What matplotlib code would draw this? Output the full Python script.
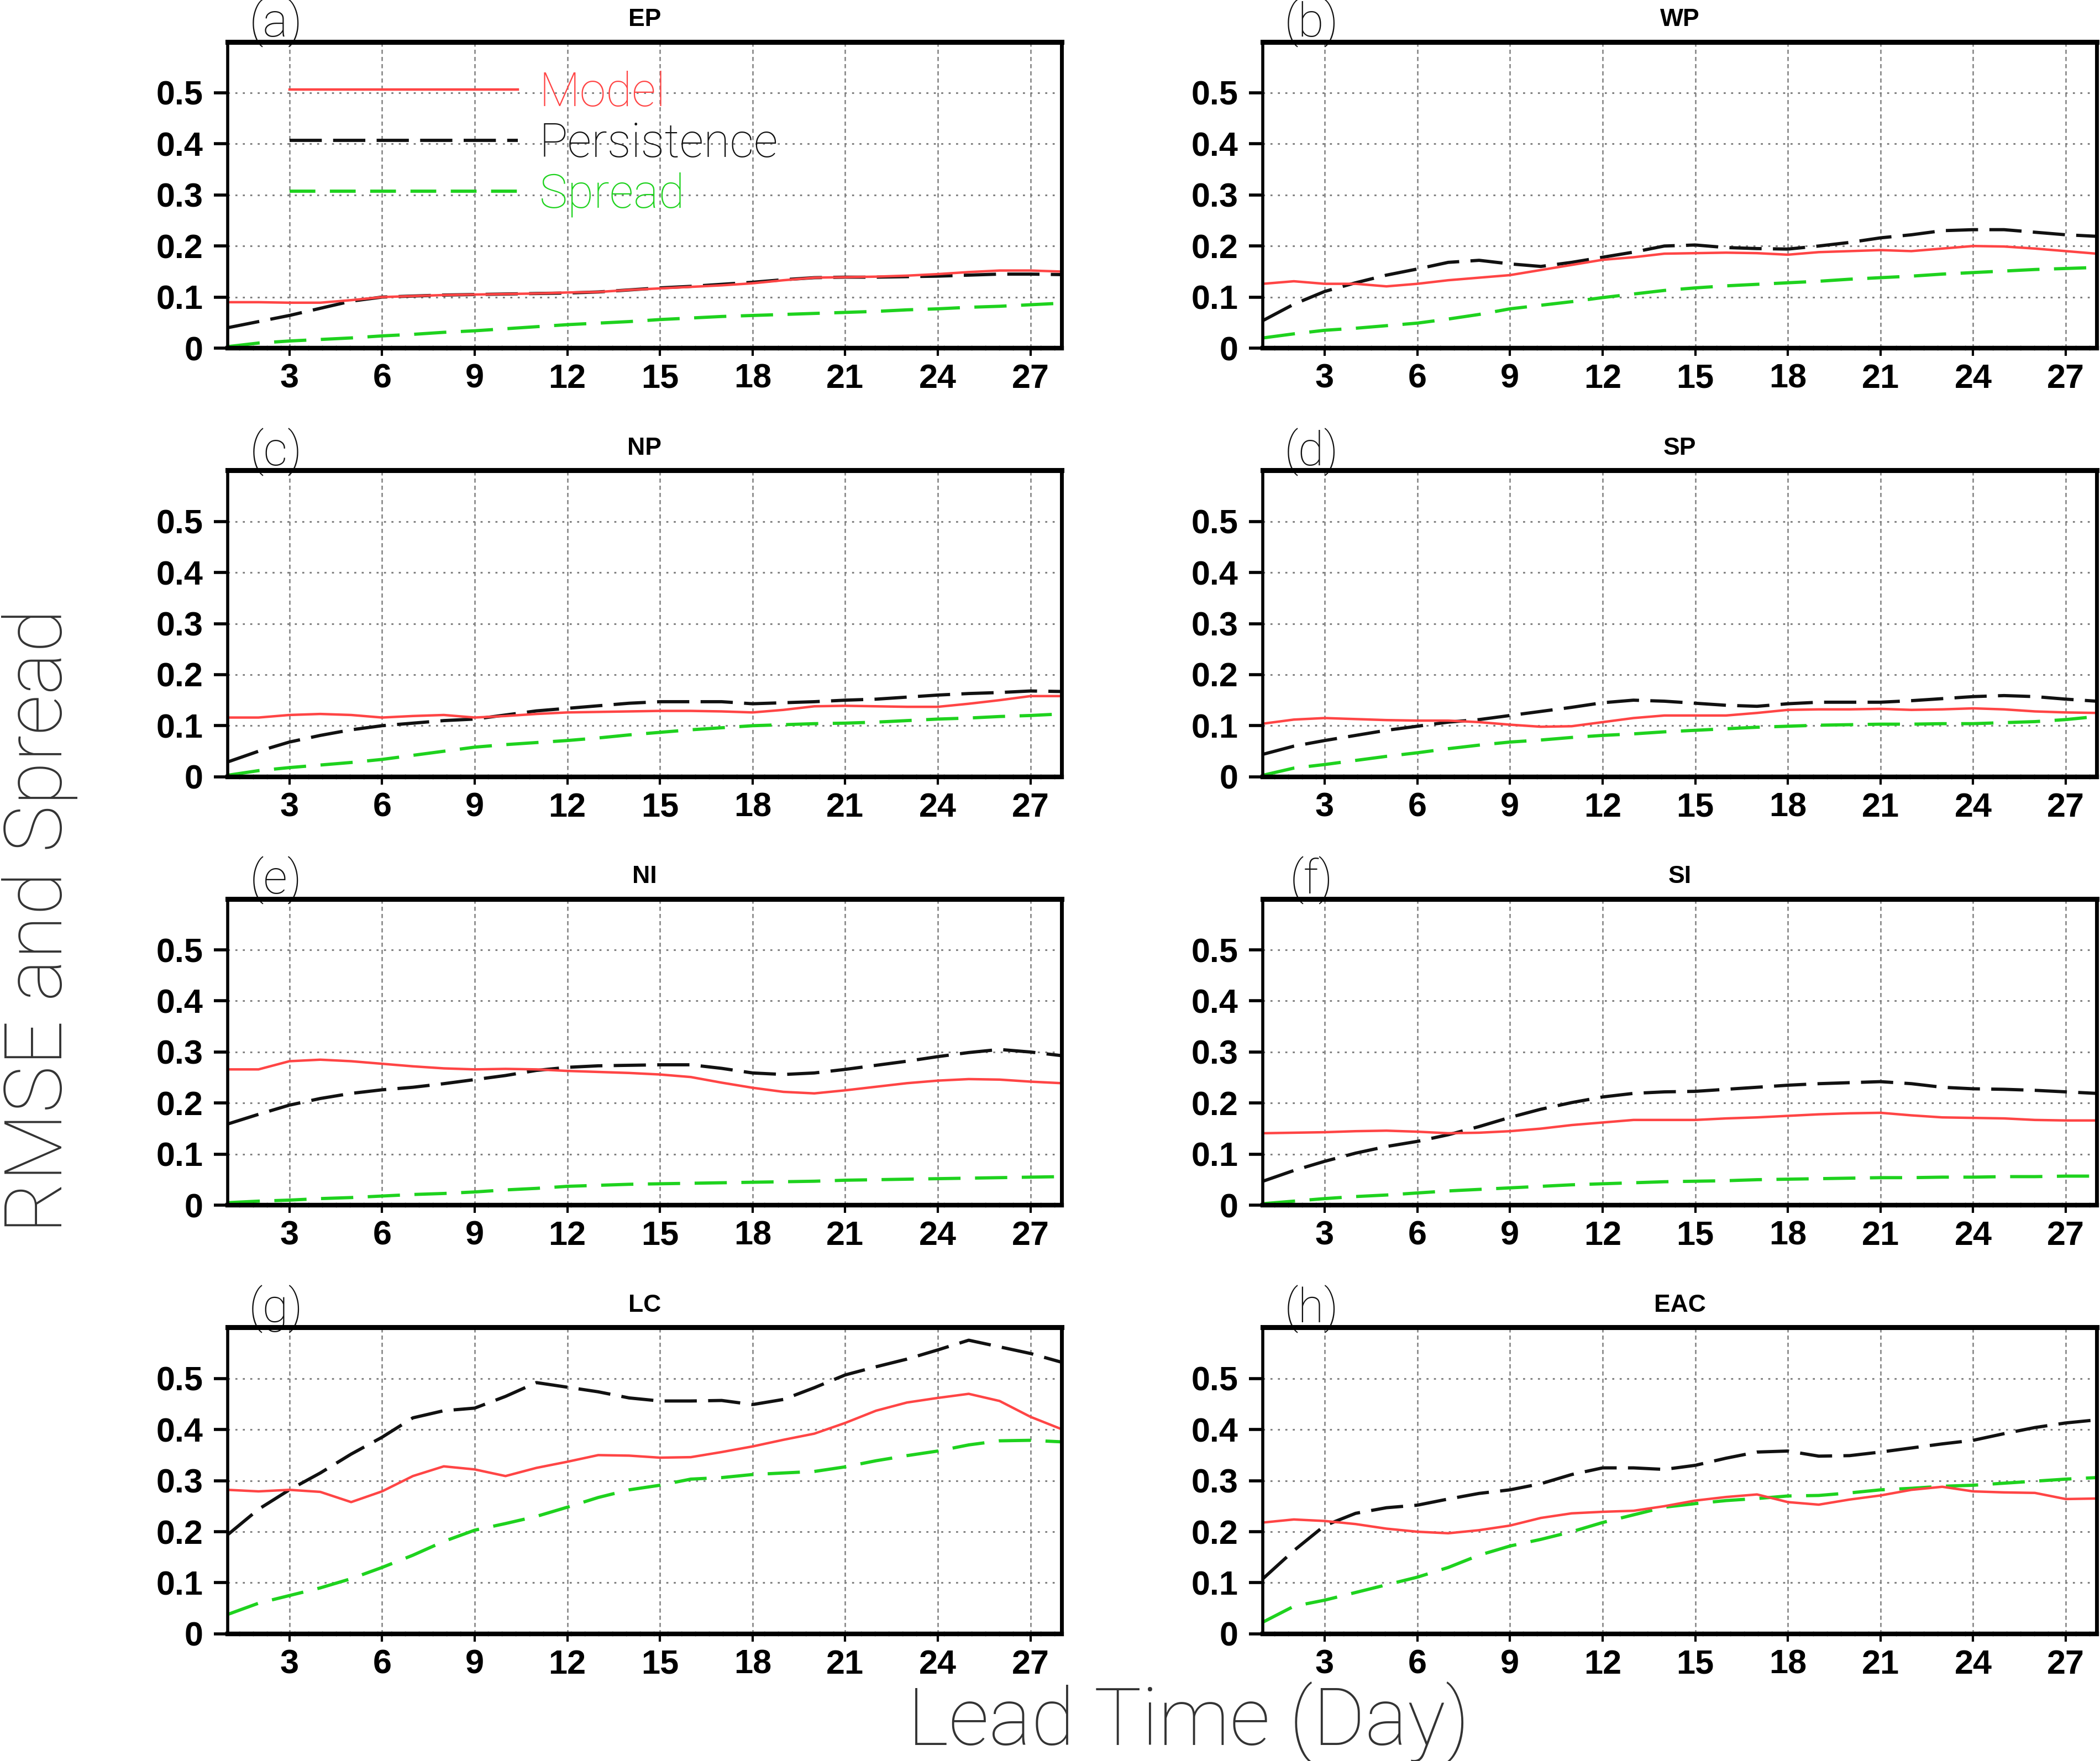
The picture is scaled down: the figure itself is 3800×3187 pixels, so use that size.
import matplotlib
matplotlib.use("Agg")
import matplotlib.pyplot as plt
from matplotlib.lines import Line2D

days = list(range(1, 29))
panel_letters = ["a", "b", "c", "d", "e", "f", "g", "h"]
regions = ["EP", "WP", "NP", "SP", "NI", "SI", "LC", "EAC"]
series_names = ["Model", "Persistence", "Spread"]
y_ticks = [0, 0.1, 0.2, 0.3, 0.4, 0.5]
y_tick_labels = ["0", "0.1", "0.2", "0.3", "0.4", "0.5"]
x_ticks = [3, 6, 9, 12, 15, 18, 21, 24, 27]

# ---- (a) EP ----
ep_model = [0.090, 0.090, 0.089, 0.089, 0.094, 0.100, 0.102, 0.104, 0.105, 0.106, 0.107, 0.109, 0.110, 0.114,
            0.117, 0.120, 0.123, 0.127, 0.133, 0.138, 0.139, 0.140, 0.142, 0.145, 0.149, 0.152, 0.152, 0.150]
ep_pers = [0.040, 0.052, 0.064, 0.078, 0.092, 0.100, 0.102, 0.104, 0.105, 0.106, 0.107, 0.108, 0.110, 0.114,
           0.118, 0.121, 0.125, 0.129, 0.134, 0.138, 0.139, 0.139, 0.140, 0.141, 0.143, 0.145, 0.145, 0.144]
ep_spread = [0.003, 0.010, 0.014, 0.017, 0.020, 0.024, 0.027, 0.031, 0.034, 0.038, 0.042, 0.046, 0.049, 0.052,
             0.056, 0.059, 0.062, 0.064, 0.066, 0.068, 0.070, 0.072, 0.075, 0.077, 0.080, 0.082, 0.085, 0.088]

# ---- (b) WP ----
wp_model = [0.126, 0.131, 0.126, 0.126, 0.121, 0.126, 0.133, 0.138, 0.143, 0.153, 0.163, 0.173, 0.178, 0.185,
            0.186, 0.187, 0.186, 0.183, 0.188, 0.190, 0.192, 0.190, 0.195, 0.200, 0.199, 0.195, 0.190, 0.185]
wp_pers = [0.054, 0.086, 0.111, 0.128, 0.143, 0.155, 0.168, 0.172, 0.165, 0.160, 0.168, 0.178, 0.188, 0.200,
           0.202, 0.197, 0.195, 0.194, 0.200, 0.207, 0.216, 0.222, 0.230, 0.232, 0.232, 0.227, 0.222, 0.219]
wp_spread = [0.020, 0.028, 0.035, 0.039, 0.044, 0.049, 0.057, 0.066, 0.077, 0.084, 0.091, 0.099, 0.106, 0.113,
             0.118, 0.122, 0.125, 0.128, 0.131, 0.135, 0.138, 0.141, 0.145, 0.148, 0.151, 0.154, 0.156, 0.158]

# ---- (c) NP ----
np_model = [0.116, 0.116, 0.121, 0.123, 0.121, 0.116, 0.119, 0.121, 0.116, 0.119, 0.123, 0.126, 0.127, 0.128,
            0.129, 0.129, 0.128, 0.126, 0.131, 0.138, 0.139, 0.138, 0.137, 0.137, 0.143, 0.150, 0.158, 0.158]
np_pers = [0.029, 0.050, 0.068, 0.081, 0.092, 0.100, 0.105, 0.110, 0.113, 0.121, 0.129, 0.134, 0.139, 0.144,
           0.147, 0.147, 0.147, 0.143, 0.145, 0.147, 0.150, 0.152, 0.156, 0.160, 0.163, 0.165, 0.168, 0.167]
np_spread = [0.003, 0.012, 0.018, 0.023, 0.028, 0.034, 0.042, 0.050, 0.058, 0.063, 0.067, 0.071, 0.076, 0.082,
             0.087, 0.092, 0.096, 0.100, 0.102, 0.104, 0.105, 0.107, 0.110, 0.113, 0.115, 0.118, 0.120, 0.123]

# ---- (d) SP ----
sp_model = [0.104, 0.112, 0.115, 0.113, 0.111, 0.110, 0.110, 0.107, 0.102, 0.098, 0.099, 0.107, 0.115, 0.120,
            0.120, 0.120, 0.125, 0.131, 0.132, 0.132, 0.133, 0.131, 0.132, 0.134, 0.132, 0.128, 0.126, 0.125]
sp_pers = [0.044, 0.060, 0.071, 0.081, 0.091, 0.099, 0.107, 0.112, 0.120, 0.128, 0.136, 0.145, 0.150, 0.148,
           0.144, 0.140, 0.138, 0.143, 0.146, 0.146, 0.146, 0.149, 0.153, 0.157, 0.159, 0.157, 0.152, 0.148]
sp_spread = [0.003, 0.017, 0.024, 0.032, 0.040, 0.047, 0.055, 0.062, 0.068, 0.072, 0.077, 0.081, 0.084, 0.088,
             0.091, 0.094, 0.097, 0.099, 0.101, 0.102, 0.103, 0.103, 0.104, 0.104, 0.106, 0.108, 0.112, 0.118]

# ---- (e) NI ----
ni_model = [0.266, 0.266, 0.282, 0.285, 0.282, 0.277, 0.272, 0.268, 0.266, 0.267, 0.266, 0.263, 0.261, 0.259,
            0.256, 0.251, 0.240, 0.230, 0.222, 0.219, 0.225, 0.232, 0.239, 0.244, 0.247, 0.246, 0.242, 0.239]
ni_pers = [0.159, 0.178, 0.196, 0.209, 0.219, 0.226, 0.231, 0.238, 0.246, 0.254, 0.264, 0.270, 0.273, 0.274,
           0.275, 0.275, 0.268, 0.259, 0.256, 0.259, 0.266, 0.274, 0.282, 0.291, 0.299, 0.305, 0.300, 0.293]
ni_spread = [0.005, 0.008, 0.010, 0.013, 0.015, 0.018, 0.021, 0.023, 0.026, 0.030, 0.033, 0.037, 0.039, 0.041,
             0.042, 0.043, 0.044, 0.045, 0.046, 0.047, 0.049, 0.050, 0.051, 0.052, 0.053, 0.054, 0.055, 0.056]

# ---- (f) SI ----
si_model = [0.141, 0.142, 0.143, 0.145, 0.146, 0.144, 0.141, 0.142, 0.145, 0.150, 0.157, 0.162, 0.167, 0.167,
            0.167, 0.170, 0.172, 0.175, 0.178, 0.180, 0.181, 0.176, 0.172, 0.171, 0.170, 0.167, 0.166, 0.166]
si_pers = [0.047, 0.068, 0.086, 0.102, 0.115, 0.125, 0.138, 0.154, 0.172, 0.188, 0.201, 0.212, 0.219, 0.222,
           0.223, 0.227, 0.231, 0.235, 0.238, 0.240, 0.242, 0.238, 0.231, 0.228, 0.227, 0.225, 0.222, 0.219]
si_spread = [0.003, 0.008, 0.013, 0.017, 0.020, 0.024, 0.028, 0.031, 0.034, 0.037, 0.040, 0.042, 0.044, 0.046,
             0.047, 0.048, 0.050, 0.051, 0.052, 0.053, 0.054, 0.054, 0.055, 0.055, 0.056, 0.056, 0.057, 0.057]

# ---- (g) LC ----
lc_model = [0.282, 0.279, 0.282, 0.278, 0.258, 0.279, 0.309, 0.328, 0.322, 0.309, 0.325, 0.337, 0.350, 0.349,
            0.345, 0.346, 0.356, 0.367, 0.380, 0.392, 0.413, 0.437, 0.453, 0.462, 0.470, 0.456, 0.425, 0.401]
lc_pers = [0.194, 0.244, 0.282, 0.315, 0.352, 0.385, 0.423, 0.437, 0.442, 0.465, 0.492, 0.483, 0.474, 0.462,
           0.456, 0.456, 0.457, 0.449, 0.459, 0.482, 0.507, 0.523, 0.538, 0.556, 0.575, 0.562, 0.549, 0.532]
lc_spread = [0.038, 0.060, 0.075, 0.090, 0.108, 0.130, 0.154, 0.181, 0.203, 0.216, 0.230, 0.248, 0.267, 0.282,
             0.291, 0.303, 0.306, 0.312, 0.315, 0.318, 0.327, 0.339, 0.349, 0.358, 0.370, 0.378, 0.379, 0.376]

# ---- (h) EAC ----
eac_model = [0.218, 0.224, 0.221, 0.215, 0.206, 0.200, 0.197, 0.203, 0.212, 0.227, 0.236, 0.239, 0.241, 0.250,
             0.261, 0.268, 0.273, 0.258, 0.253, 0.263, 0.271, 0.282, 0.288, 0.279, 0.277, 0.276, 0.264, 0.265]
eac_pers = [0.108, 0.163, 0.212, 0.236, 0.247, 0.252, 0.264, 0.275, 0.282, 0.294, 0.312, 0.325, 0.325, 0.322,
            0.330, 0.344, 0.356, 0.358, 0.348, 0.349, 0.356, 0.364, 0.372, 0.379, 0.392, 0.404, 0.413, 0.419]
eac_spread = [0.023, 0.054, 0.066, 0.081, 0.096, 0.111, 0.130, 0.154, 0.172, 0.185, 0.200, 0.218, 0.233, 0.248,
              0.255, 0.261, 0.265, 0.270, 0.271, 0.276, 0.282, 0.285, 0.289, 0.291, 0.295, 0.299, 0.303, 0.306]

model_data = [ep_model, wp_model, np_model, sp_model, ni_model, si_model, lc_model, eac_model]
pers_data = [ep_pers, wp_pers, np_pers, sp_pers, ni_pers, si_pers, lc_pers, eac_pers]
spread_data = [ep_spread, wp_spread, np_spread, sp_spread, ni_spread, si_spread, lc_spread, eac_spread]

# ---- styling ----
RED = "#ff4545"
BLACK = "#111111"
GREEN = "#1ed21e"
GRID = "#808080"
TICKFONT = ["Liberation Sans", "DejaVu Sans"]
THINFONT = ["Roboto", "DejaVu Sans"]

fig = plt.figure(figsize=(38, 31.87), dpi=100)

col_left = [0.1084, 0.6014]
row_bottom = [0.8023, 0.5589, 0.3156, 0.0722]
ax_w, ax_h = 0.397, 0.174

for i in range(8):
    r, c = divmod(i, 2)
    ax = fig.add_axes([col_left[c], row_bottom[r], ax_w, ax_h])
    ax.set_xlim(1, 28)
    ax.set_ylim(0, 0.6)

    ax.plot(days, model_data[i], color=RED, lw=3.2, solid_joinstyle="round", zorder=4)
    ax.plot(days, pers_data[i], color=BLACK, lw=4.2, dashes=(10, 3.5), zorder=3)
    ax.plot(days, spread_data[i], color=GREEN, lw=4.2, dashes=(10, 4.5), zorder=3)

    ax.set_xticks(x_ticks)
    ax.set_xticklabels([str(t) for t in x_ticks])
    ax.set_yticks(y_ticks)
    ax.set_yticklabels(y_tick_labels)
    ax.tick_params(axis="y", direction="out", length=18, width=4, pad=14, labelsize=44, left=True, right=False)
    ax.tick_params(axis="x", direction="out", length=10, width=3, pad=10, labelsize=44, bottom=True, top=False)
    for lab in ax.get_xticklabels() + ax.get_yticklabels():
        lab.set_fontweight("bold")
        lab.set_fontfamily(TICKFONT)

    ax.xaxis.grid(True, color=GRID, lw=1.8, linestyle=(0, (3, 2.2)), zorder=1)
    ax.yaxis.grid(True, color=GRID, lw=2.2, linestyle=(0, (1.2, 3.2)), zorder=1)
    ax.set_axisbelow(True)

    ax.spines["top"].set_linewidth(6.5)
    ax.spines["right"].set_linewidth(5)
    ax.spines["left"].set_linewidth(4)
    ax.spines["bottom"].set_linewidth(6)
    ax.spines["bottom"].set_linestyle((0, (2.2, 0.8)))
    for s in ax.spines.values():
        s.set_color("black")
        s.set_zorder(5)

    ax.text(0.5, 1.035, regions[i], transform=ax.transAxes, ha="center", va="bottom",
            fontsize=32, fontweight="bold", family=TICKFONT)
    ax.text(0.058, 1.06, "(" + panel_letters[i] + ")", transform=ax.transAxes, ha="center", va="center",
            fontsize=62, fontweight="light", family=THINFONT, color="#111111")

    if i == 0:
        handles = [Line2D([], [], color=RED, lw=3.2),
                   Line2D([], [], color=BLACK, lw=4.2, dashes=(10, 3.5)),
                   Line2D([], [], color=GREEN, lw=4.2, dashes=(8, 4.5))]
        leg = ax.legend(handles, series_names, loc="upper left", bbox_to_anchor=(0.074, 0.905),
                        frameon=False, borderpad=0, borderaxespad=0, handlelength=4.8,
                        handletextpad=0.45, labelspacing=0.12,
                        prop={"family": THINFONT, "size": 62, "weight": "light"})
        for txt, col in zip(leg.get_texts(), [RED, BLACK, GREEN]):
            txt.set_color(col)

fig.text(0.019, 0.477, "RMSE and Spread", rotation=90, ha="center", va="center",
         fontsize=104, fontweight="light", family=THINFONT, color="#333333")
fig.text(0.566, 0.009, "Lead Time (Day)", ha="center", va="baseline",
         fontsize=104, fontweight="light", family=THINFONT, color="#333333")

fig.savefig("out.png", dpi=100)
